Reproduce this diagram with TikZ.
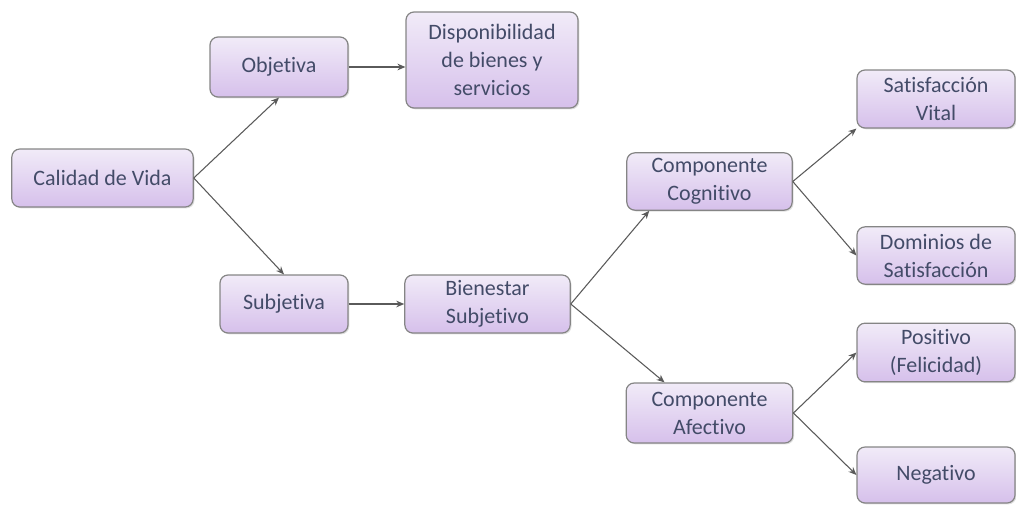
\documentclass[tikz,border=0pt]{standalone}
\usepackage{fontspec}
\setmainfont[Ligatures=NoCommon]{Carlito}
\usetikzlibrary{arrows.meta,calc,shadows}
\definecolor{cajaarriba}{HTML}{F1EBF8}
\definecolor{cajaabajo}{HTML}{D6C0EB}
\definecolor{cajaborde}{HTML}{858585}
\definecolor{cajatexto}{HTML}{434B68}
\definecolor{flecha}{HTML}{5A5A5A}
\begin{document}
\begin{tikzpicture}[x=0.75pt,y=-0.75pt,
    caja/.style={draw=cajaborde,line width=0.9pt,rounded corners=6pt,
        top color=cajaarriba,bottom color=cajaabajo,align=center,
        text=cajatexto,inner sep=2pt,
        font=\fontsize{16.5}{21}\selectfont,
        drop shadow={opacity=0.25,shadow xshift=1pt,shadow yshift=-1pt}},
    flec/.style={draw=flecha,line width=0.8pt,-{Stealth[length=6pt,width=5pt]}}]
\useasboundingbox (0,0) rectangle (1016,504);
\node[caja,minimum width=136pt,minimum height=43.5pt] (cv) at (102.5,178) {Calidad de Vida};
\node[caja,minimum width=103.5pt,minimum height=45pt] (obj) at (279,67) {Objetiva};
\node[caja,minimum width=129pt,minimum height=72pt] (disp) at (492,60) {Disponibilidad\\de bienes y\\servicios};
\node[caja,minimum width=96pt,minimum height=43.5pt] (subj) at (284,304) {Subjetiva};
\node[caja,minimum width=124pt,minimum height=43.5pt] (bien) at (487.5,304) {Bienestar\\Subjetivo};
\node[caja,minimum width=124pt,minimum height=43pt] (cog) at (709.5,181.5) {Componente\\Cognitivo};
\node[caja,minimum width=125pt,minimum height=45pt] (afe) at (709.5,413) {Componente\\Afectivo};
\node[caja,minimum width=118.5pt,minimum height=43.5pt] (sv) at (936,99) {Satisfacción\\Vital};
\node[caja,minimum width=118.5pt,minimum height=43pt] (dom) at (936,255.5) {Dominios de\\Satisfacción};
\node[caja,minimum width=118.5pt,minimum height=44pt] (pos) at (936,352.5) {Positivo\\(Felicidad)};
\node[caja,minimum width=118.5pt,minimum height=42pt] (neg) at (936,475) {Negativo};
\draw[flec] (cv.east) -- (obj.south);
\draw[flec] (cv.east) -- (subj.north);
\draw[flec] (obj.east) -- (obj.east -| disp.west);
\draw[flec] (subj.east) -- (bien.west);
\draw[flec] (bien.east) -- ($(cog.south west)+(23,0)$);
\draw[flec] (bien.east) -- ($(afe.north west)+(39,0)$);
\draw[flec] (cog.east) -- (sv.south west);
\draw[flec] (cog.east) -- (dom.west);
\draw[flec] (afe.east) -- (pos.west);
\draw[flec] (afe.east) -- (neg.west);
\end{tikzpicture}
\end{document}
